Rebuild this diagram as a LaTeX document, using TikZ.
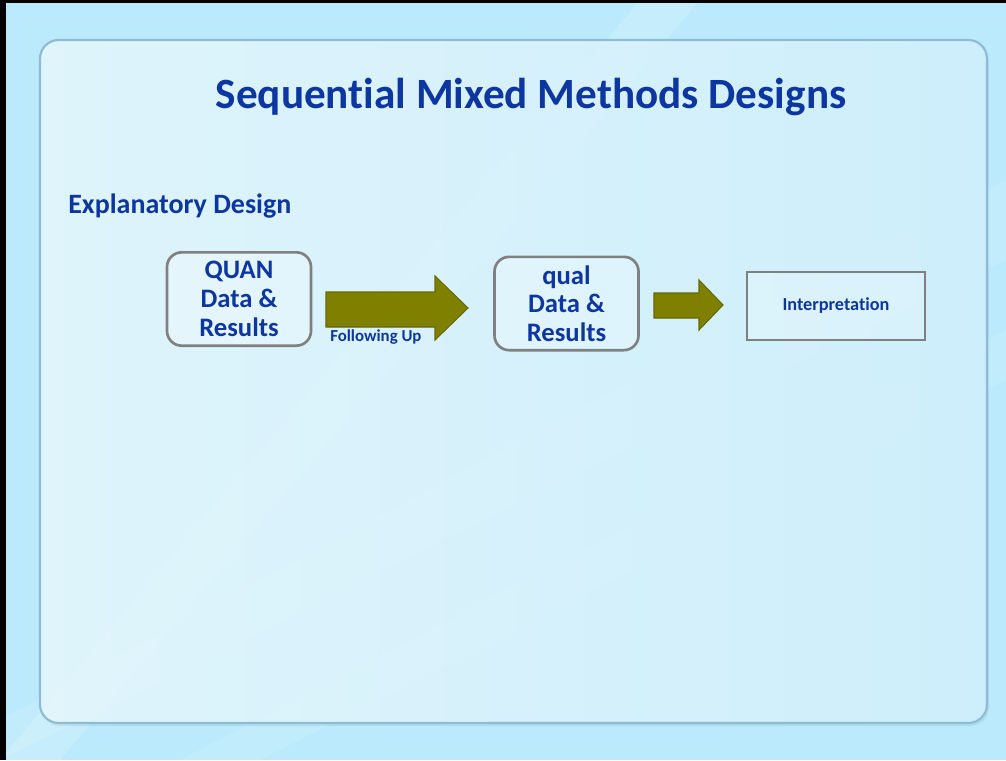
\documentclass[tikz,border=0pt]{standalone}
\usepackage{fontspec}
\setmainfont[Ligatures=NoCommon]{Carlito}
\usetikzlibrary{shapes.geometric}
\definecolor{txtblue}{RGB}{14,54,160}
\definecolor{outerbg}{RGB}{186,234,252}
\definecolor{panelA}{RGB}{230,248,254}
\definecolor{panelB}{RGB}{210,241,253}
\definecolor{panelline}{RGB}{140,188,214}
\definecolor{boxline}{RGB}{128,128,128}
\definecolor{olivefill}{RGB}{128,128,0}
\definecolor{oliveline}{RGB}{104,104,0}
\tikzset{
  roundbox/.style={draw=boxline, line width=2pt, rounded corners=11pt, fill=white, fill opacity=0.25, text opacity=1,
    minimum width=108pt, minimum height=70pt, align=center, text=txtblue,
    font=\fontsize{20}{21.5}\selectfont\bfseries},
  sqbox/.style={draw=boxline, line width=1.6pt, fill=white, fill opacity=0.2, text opacity=1,
    minimum width=133.5pt, minimum height=51pt, text=txtblue, font=\fontsize{13.7}{15}\selectfont\bfseries},
  bigarrow/.style={fill=olivefill, draw=oliveline, line width=0.8pt, line join=miter},
  lbl/.style={text=txtblue, font=\bfseries, inner sep=0pt}
}
\begin{document}
\begin{tikzpicture}[x=0.75pt,y=-0.75pt]
\useasboundingbox (0,0) rectangle (1006,760);
% outer background
\fill[outerbg] (0,0) rectangle (1006,760);
\begin{scope}
\clip (0,0) rectangle (1006,760);
\fill[white, opacity=0.18] (0,760) -- (640,0) -- (700,0) -- (60,760) -- cycle;
\fill[white, opacity=0.12] (0,720) -- (1006,180) -- (1006,260) -- (0,760) -- cycle;
\fill[white, opacity=0.10] (180,760) -- (1006,330) -- (1006,380) -- (260,760) -- cycle;
\end{scope}
% black frame edges
\fill[black] (0,0) rectangle (6,760);
\fill[black] (0,0) rectangle (1006,3);
% panel
\fill[black, opacity=0.06, rounded corners=14pt] (42,43) rectangle (989,726);
\node[draw=panelline, line width=1.6pt, rounded corners=14pt, left color=panelA, right color=panelB,
  fill opacity=0.88, minimum width=710.25pt, minimum height=512.25pt, inner sep=0pt] (panel) at (513.5,381.5) {};
% title
\node[lbl, font=\fontsize{32.4}{36}\selectfont\bfseries, anchor=base] (title) at (531,108) {Sequential Mixed Methods Designs};
\node[lbl, font=\fontsize{21}{24}\selectfont\bfseries, anchor=base west] (design) at (68,213) {Explanatory Design};
% boxes
\node[roundbox] (quan) at (239,299) {QUAN\\Data \&\\Results};
\node[roundbox] (qual) at (566.5,303.5) {qual\\Data \&\\Results};
\node[sqbox] (interp) at (836,306) {Interpretation};
% arrows
\coordinate (a1) at (326,309.5);
\coordinate (a2) at (654,305.5);
\draw[bigarrow] (326,292) -- (435,292) -- (435,276) -- (468,308) -- (435,340) -- (435,327) -- (326,327) -- cycle;
\draw[bigarrow] (654,293) -- (699,293) -- (699,280) -- (723,305) -- (699,330) -- (699,318) -- (654,318) -- cycle;
\node[lbl, font=\fontsize{12.6}{14}\selectfont\bfseries, anchor=base west] (follow) at (330,341) {Following Up};
\end{tikzpicture}
\end{document}
